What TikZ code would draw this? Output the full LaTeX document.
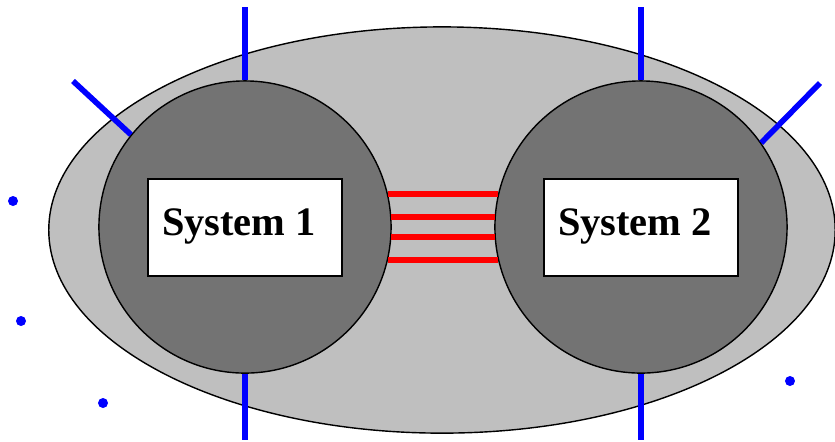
\documentclass[tikz,border=0pt]{standalone}
\usepackage{fontspec}
\setmainfont{Liberation Serif}
\usetikzlibrary{shapes.geometric}

\begin{document}
\begin{tikzpicture}[x=0.01cm, y=-0.01cm,
	sys/.style={shape=circle, draw, fill=black!55, line width=0.4pt, minimum size=2.92cm, inner sep=0pt},
	box/.style={shape=rectangle, draw, fill=white, line width=0.4pt, minimum width=1.94cm, minimum height=0.97cm},
	systext/.style={font=\fontsize{11.5}{14}\selectfont\bfseries, inner sep=0pt},
	port/.style={draw=blue, line width=1.6pt},
	link/.style={draw=red, line width=1.6pt},
	dot/.style={shape=circle, fill=blue, minimum size=0.1cm, inner sep=0pt}]
	\useasboundingbox (0,0) rectangle (835,441);
	
	\node(env) at (442,230)[shape=ellipse,draw][fill=black!25][line width = 0.4pt, minimum width=7.86cm, minimum height=4.06cm] {};
	\node(sys1) [sys] at (245,227) {};
	\node(sys2) [sys] at (641,227) {};
	\node(box1) [box] at (245,227.5) {};
	\node(box2) [box] at (641,227.5) {};
	\node(txt1) [systext] at (239,226) {System 1};
	\node(txt2) [systext] at (635,226) {System 2};
	
	% free ends of the ports
	\coordinate(p1) at (245,7);
	\coordinate(p2) at (73,81);
	\coordinate(p3) at (245,440);
	\coordinate(p4) at (641,7);
	\coordinate(p5) at (820,83);
	\coordinate(p6) at (641,440);
	
	\path [port]
	(sys1.north) edge (p1)
	(sys1.141)   edge (p2)
	(sys1.south) edge (p3)
	(sys2.north) edge (p4)
	(sys2.35)    edge (p5)
	(sys2.south) edge (p6);
	
	\path [link]
	(sys1.13)  edge (sys2.167)
	(sys1.4)   edge (sys2.176)
	(sys1.-4)  edge (sys2.184)
	(sys1.-13) edge (sys2.193);
	
	\node(d1) [dot] at (13,201) {};
	\node(d2) [dot] at (21,321) {};
	\node(d3) [dot] at (103,403) {};
	\node(d4) [dot] at (790,381) {};
\end{tikzpicture}
\end{document}
